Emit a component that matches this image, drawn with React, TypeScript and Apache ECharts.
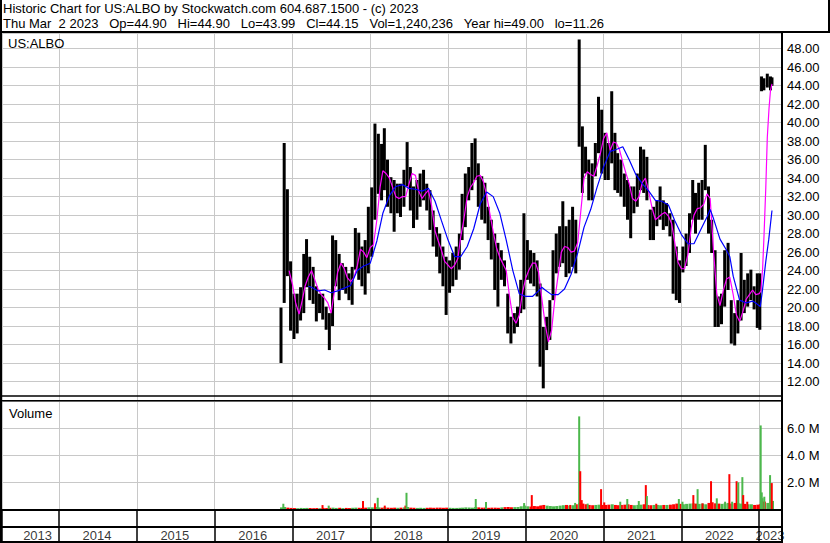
import React, { useEffect, useRef } from 'react';
import * as echarts from 'echarts';

// ---------- axis range ----------
const axisStart = '2013-04-08';
const axisEnd = '2023-04-18';
const yearLabels = ['2013', '2014', '2015', '2016', '2017', '2018', '2019', '2020', '2021', '2022', '2023'];
const yearLabelDates = ['2013-09-22', '2014-06-28', '2015-06-28', '2016-06-28', '2017-06-28', '2018-06-28', '2019-06-28', '2020-06-28', '2021-06-28', '2022-06-28', '2023-02-21'];

// ---------- half-monthly price ranges ----------
const priceDates = [
  '2016-11-08', '2016-11-23', '2016-12-08', '2016-12-23',
  '2017-01-08', '2017-01-23', '2017-02-08', '2017-02-23', '2017-03-08', '2017-03-23', '2017-04-08', '2017-04-23', '2017-05-08', '2017-05-23', '2017-06-08', '2017-06-23',
  '2017-07-08', '2017-07-23', '2017-08-08', '2017-08-23', '2017-09-08', '2017-09-23', '2017-10-08', '2017-10-23', '2017-11-08', '2017-11-23', '2017-12-08', '2017-12-23',
  '2018-01-08', '2018-01-23', '2018-02-08', '2018-02-23', '2018-03-08', '2018-03-23', '2018-04-08', '2018-04-23', '2018-05-08', '2018-05-23', '2018-06-08', '2018-06-23',
  '2018-07-08', '2018-07-23', '2018-08-08', '2018-08-23', '2018-09-08', '2018-09-23', '2018-10-08', '2018-10-23', '2018-11-08', '2018-11-23', '2018-12-08', '2018-12-23',
  '2019-01-08', '2019-01-23', '2019-02-08', '2019-02-23', '2019-03-08', '2019-03-23', '2019-04-08', '2019-04-23', '2019-05-08', '2019-05-23', '2019-06-08', '2019-06-23',
  '2019-07-08', '2019-07-23', '2019-08-08', '2019-08-23', '2019-09-08', '2019-09-23', '2019-10-08', '2019-10-23', '2019-11-08', '2019-11-23', '2019-12-08', '2019-12-23',
  '2020-01-08', '2020-01-23', '2020-02-08', '2020-02-23', '2020-03-08', '2020-03-23', '2020-04-08', '2020-04-23', '2020-05-08', '2020-05-23', '2020-06-08', '2020-06-23',
  '2020-07-08', '2020-07-23', '2020-08-08', '2020-08-23', '2020-09-08', '2020-09-23', '2020-10-08', '2020-10-23', '2020-11-08', '2020-11-23', '2020-12-08', '2020-12-23',
  '2021-01-08', '2021-01-23', '2021-02-08', '2021-02-23', '2021-03-08', '2021-03-23', '2021-04-08', '2021-04-23', '2021-05-08', '2021-05-23', '2021-06-08', '2021-06-23',
  '2021-07-08', '2021-07-23', '2021-08-08', '2021-08-23', '2021-09-08', '2021-09-23', '2021-10-08', '2021-10-23', '2021-11-08', '2021-11-23', '2021-12-08', '2021-12-23',
  '2022-01-08', '2022-01-23', '2022-02-08', '2022-02-23', '2022-03-08', '2022-03-23', '2022-04-08', '2022-04-23', '2022-05-08', '2022-05-23', '2022-06-08', '2022-06-23',
  '2022-07-08', '2022-07-23', '2022-08-08', '2022-08-23', '2022-09-08', '2022-09-23', '2022-10-08', '2022-10-23', '2022-11-08', '2022-11-23', '2022-12-08', '2022-12-23',
  '2023-01-04', '2023-01-12', '2023-01-23', '2023-02-08', '2023-02-23', '2023-03-02',
];
const priceHigh = [
  20.0, 37.8, 32.8, 25.0,
  21.5, 21.5, 22.2, 25.8, 27.4, 25.5, 24.4, 22.3, 21.5, 21.5, 20.1, 19.4,
  27.8, 27.3, 25.8, 24.8, 24.4, 23.7, 24.4, 28.6, 28.1, 26.6, 27.3, 30.9,
  33.0, 39.9, 38.8, 37.7, 39.4, 36.0, 34.1, 33.8, 33.4, 33.4, 34.9, 37.9,
  35.2, 33.1, 33.8, 34.5, 34.9, 33.4, 32.7, 30.5, 28.7, 28.0, 26.6, 25.5,
  25.1, 25.9, 26.6, 28.0, 32.3, 34.5, 35.2, 37.8, 38.3, 35.6, 34.2, 33.5,
  30.9, 29.5, 28.0, 27.0, 26.2, 25.1, 21.5, 19.0, 19.4, 20.1, 23.0, 30.2,
  27.3, 26.2, 25.9, 25.1, 22.6, 17.9, 19.0, 20.8, 26.2, 28.0, 28.8, 31.5,
  28.8, 29.5, 30.9, 29.5, 49.0, 39.6, 37.4, 36.0, 35.6, 37.8, 42.8, 41.4,
  38.9, 37.8, 43.4, 38.9, 36.7, 36.0, 34.5, 33.8, 33.1, 33.1, 34.5, 37.4,
  37.1, 36.3, 30.6, 30.9, 31.6, 33.1, 31.6, 31.3, 30.2, 29.5, 26.6, 25.1,
  26.6, 28.0, 30.2, 33.8, 32.4, 33.5, 33.8, 37.6, 33.1, 29.5, 26.2, 21.2,
  21.5, 26.2, 27.0, 20.8, 19.4, 20.8, 25.9, 23.0, 23.7, 24.1, 22.3, 23.7,
  23.7, 45.0, 44.8, 45.3, 45.0, 44.9,
];
const priceLow = [
  14.0, 20.5, 23.4, 17.5,
  16.6, 17.2, 18.6, 19.4, 22.2, 20.8, 20.4, 18.5, 19.4, 18.7, 17.6, 15.4,
  18.0, 22.3, 20.8, 21.9, 21.5, 20.8, 20.3, 24.1, 23.0, 22.3, 21.4, 23.7,
  25.5, 29.5, 32.3, 31.6, 32.7, 30.9, 30.2, 28.2, 30.2, 29.8, 30.9, 33.1,
  30.5, 28.6, 29.5, 30.9, 31.6, 30.5, 28.4, 26.6, 25.5, 23.7, 22.3, 19.2,
  21.6, 22.3, 23.0, 24.1, 27.3, 28.7, 31.6, 32.7, 33.8, 30.9, 29.5, 29.1,
  27.3, 25.2, 21.9, 20.1, 23.0, 22.3, 17.2, 16.1, 17.2, 17.9, 19.4, 19.8,
  23.0, 22.6, 22.3, 21.2, 13.6, 11.26, 15.4, 16.5, 20.8, 23.7, 24.4, 24.8,
  23.3, 23.7, 24.4, 23.7, 37.4, 32.4, 34.5, 31.6, 31.6, 34.2, 36.7, 34.5,
  33.8, 33.8, 35.6, 32.7, 32.4, 32.0, 30.9, 29.5, 27.5, 30.2, 30.9, 32.7,
  32.4, 31.6, 27.3, 27.3, 28.8, 29.5, 28.4, 28.8, 27.7, 21.5, 20.8, 20.5,
  23.8, 24.5, 25.9, 29.5, 28.0, 29.5, 29.5, 32.7, 28.0, 25.9, 17.9, 17.9,
  18.2, 20.1, 21.9, 16.1, 15.9, 17.2, 18.6, 19.4, 20.1, 20.8, 19.8, 17.8,
  17.6, 43.4, 43.5, 43.8, 43.5, 43.99,
];

// ---------- moving averages ----------
const maFastDates = [
  '2016-12-16',
  '2017-01-01', '2017-01-16', '2017-02-01', '2017-02-16', '2017-03-01', '2017-03-16', '2017-04-01', '2017-04-16', '2017-05-01', '2017-05-16', '2017-06-01', '2017-06-16',
  '2017-07-01', '2017-07-16', '2017-08-01', '2017-08-16', '2017-09-01', '2017-09-16', '2017-10-01', '2017-10-16', '2017-11-01', '2017-11-16', '2017-12-01', '2017-12-16',
  '2018-01-01', '2018-01-16', '2018-02-01', '2018-02-16', '2018-03-01', '2018-03-16', '2018-04-01', '2018-04-16', '2018-05-01', '2018-05-16', '2018-06-01', '2018-06-16',
  '2018-07-01', '2018-07-16', '2018-08-01', '2018-08-16', '2018-09-01', '2018-09-16', '2018-10-01', '2018-10-16', '2018-11-01', '2018-11-16', '2018-12-01', '2018-12-16',
  '2019-01-01', '2019-01-16', '2019-02-01', '2019-02-16', '2019-03-01', '2019-03-16', '2019-04-01', '2019-04-16', '2019-05-01', '2019-05-16', '2019-06-01', '2019-06-16',
  '2019-07-01', '2019-07-16', '2019-08-01', '2019-08-16', '2019-09-01', '2019-09-16', '2019-10-01', '2019-10-16', '2019-11-01', '2019-11-16', '2019-12-01', '2019-12-16',
  '2020-01-01', '2020-01-16', '2020-02-01', '2020-02-16', '2020-03-01', '2020-03-16', '2020-04-01', '2020-04-16', '2020-05-01', '2020-05-16', '2020-06-01', '2020-06-16',
  '2020-07-01', '2020-07-16', '2020-08-01', '2020-08-16', '2020-09-01', '2020-09-16', '2020-10-01', '2020-10-16', '2020-11-01', '2020-11-16', '2020-12-01', '2020-12-16',
  '2021-01-01', '2021-01-16', '2021-02-01', '2021-02-16', '2021-03-01', '2021-03-16', '2021-04-01', '2021-04-16', '2021-05-01', '2021-05-16', '2021-06-01', '2021-06-16',
  '2021-07-01', '2021-07-16', '2021-08-01', '2021-08-16', '2021-09-01', '2021-09-16', '2021-10-01', '2021-10-16', '2021-11-01', '2021-11-16', '2021-12-01', '2021-12-16',
  '2022-01-01', '2022-01-16', '2022-02-01', '2022-02-16', '2022-03-01', '2022-03-16', '2022-04-01', '2022-04-16', '2022-05-01', '2022-05-16', '2022-06-01', '2022-06-16',
  '2022-07-01', '2022-07-16', '2022-08-01', '2022-08-16', '2022-09-01', '2022-09-16', '2022-10-01', '2022-10-16', '2022-11-01', '2022-11-16', '2022-12-01', '2022-12-16',
  '2023-01-01', '2023-01-09', '2023-01-17', '2023-01-24', '2023-02-01', '2023-02-08', '2023-02-16', '2023-02-23', '2023-03-02',
];
const maFastValues = [
  24.0,
  22.5, 20.5, 19.3, 20.8, 22.3, 23.3, 24.0, 23.0, 22.0, 21.4, 21.0, 20.5,
  19.4, 21.6, 23.8, 24.8, 24.2, 23.2, 22.8, 23.2, 24.5, 26.3, 26.0, 25.4,
  26.5, 26.8, 29.5, 33.0, 34.8, 34.5, 34.0, 33.0, 32.0, 31.8, 32.0, 32.0,
  33.3, 34.5, 34.3, 32.6, 31.8, 32.3, 32.7, 31.0, 28.3, 27.2, 26.2, 25.0,
  24.6, 24.2, 24.6, 25.3, 27.6, 29.5, 32.0, 33.0, 33.5, 34.2, 34.3, 33.6,
  32.2, 30.2, 28.2, 26.5, 25.4, 24.7, 24.0, 21.3, 18.9, 18.3, 19.2, 21.6,
  23.2, 24.1, 24.8, 24.8, 23.8, 21.0, 18.2, 16.3, 17.5, 20.8, 23.5, 26.0,
  26.6, 26.5, 26.0, 26.1, 27.0, 30.5, 34.0, 34.7, 34.4, 34.2, 35.3, 36.6,
  38.3, 38.9, 37.0, 37.9, 37.8, 37.1, 35.7, 34.5, 33.4, 31.8, 31.5, 32.0,
  33.5, 34.0, 32.5, 30.8, 29.5, 29.8, 30.1, 30.3, 29.9, 29.1, 27.0, 24.9,
  24.2, 24.2, 25.8, 28.6, 30.0, 30.7, 30.8, 31.2, 32.3, 31.8, 26.0, 21.5,
  20.2, 21.8, 23.1, 23.3, 21.4, 19.2, 18.5, 19.5, 20.9, 21.4, 21.9, 21.4,
  21.5, 21.8, 24.2, 28.0, 33.0, 38.4, 41.5, 43.5, 44.2,
];

const maSlowDates = [
  '2017-03-16', '2017-04-01', '2017-05-01', '2017-06-01', '2017-07-01', '2017-08-01', '2017-09-01', '2017-10-01', '2017-11-01', '2017-12-01',
  '2018-01-01', '2018-02-01', '2018-03-01', '2018-04-01', '2018-05-01', '2018-06-01', '2018-07-01', '2018-08-01', '2018-09-01', '2018-10-01', '2018-11-01', '2018-12-01',
  '2019-01-01', '2019-02-01', '2019-03-01', '2019-04-01', '2019-05-01', '2019-06-01', '2019-07-01', '2019-08-01', '2019-09-01', '2019-10-01', '2019-11-01', '2019-12-01',
  '2020-01-01', '2020-02-01', '2020-03-01', '2020-03-16', '2020-04-01', '2020-05-01', '2020-06-01', '2020-07-01', '2020-08-01', '2020-09-01', '2020-10-01', '2020-11-01', '2020-12-01',
  '2021-01-01', '2021-02-01', '2021-03-01', '2021-04-01', '2021-05-01', '2021-06-01', '2021-07-01', '2021-08-01', '2021-09-01', '2021-10-01', '2021-11-01', '2021-12-01',
  '2022-01-01', '2022-02-01', '2022-03-01', '2022-04-01', '2022-05-01', '2022-05-16', '2022-06-01', '2022-07-01', '2022-08-01', '2022-08-16', '2022-09-01', '2022-10-01', '2022-11-01', '2022-12-01', '2022-12-16',
  '2023-01-06', '2023-01-16', '2023-02-01', '2023-02-15', '2023-03-02',
];
const maSlowValues = [
  22.3, 22.2, 21.8, 21.9, 21.6, 21.8, 22.1, 22.4, 24.0, 24.5,
  24.8, 27.2, 30.2, 32.1, 33.1, 33.3, 32.9, 32.8, 32.6, 32.9, 31.5, 29.4,
  27.3, 25.5, 25.5, 26.6, 28.5, 31.2, 32.5, 32.0, 30.2, 27.3, 24.0, 21.5,
  21.2, 21.2, 21.8, 22.2, 21.9, 21.4, 21.4, 22.0, 23.6, 25.9, 28.7, 30.6, 33.0,
  35.2, 36.9, 37.1, 37.4, 36.0, 34.4, 33.4, 32.6, 31.6, 31.5, 31.1, 29.4,
  27.9, 26.9, 26.9, 28.4, 29.8, 30.6, 29.6, 27.4, 26.2, 25.5, 23.4, 20.8, 20.5, 20.7, 20.5,
  20.1, 21.8, 25.0, 27.4, 30.5,
];

// ---------- volume (millions) ----------
const volumeBase = [
  0.12, 0.15, 0.10, 0.08,
  0.07, 0.06, 0.08, 0.07, 0.08, 0.07, 0.06, 0.07, 0.06, 0.08, 0.07, 0.09, 0.10, 0.08, 0.09, 0.07, 0.08, 0.07, 0.09, 0.10, 0.09, 0.08, 0.10, 0.12,
  0.12, 0.15, 0.12, 0.10, 0.12, 0.10, 0.09, 0.10, 0.09, 0.10, 0.12, 0.15, 0.10, 0.09, 0.08, 0.09, 0.08, 0.09, 0.10, 0.09, 0.10, 0.10, 0.09, 0.10,
  0.09, 0.08, 0.08, 0.09, 0.10, 0.12, 0.11, 0.10, 0.15, 0.12, 0.10, 0.11, 0.09, 0.10, 0.10, 0.09, 0.12, 0.14, 0.15, 0.13, 0.14, 0.15, 0.20, 0.25,
  0.20, 0.18, 0.22, 0.20, 0.25, 0.30, 0.25, 0.22, 0.20, 0.22, 0.25, 0.28, 0.30, 0.26, 0.28, 0.35, 0.45, 0.40, 0.35, 0.30, 0.28, 0.30, 0.32, 0.30,
  0.30, 0.32, 0.35, 0.30, 0.28, 0.30, 0.32, 0.35, 0.30, 0.28, 0.30, 0.32, 0.35, 0.30, 0.28, 0.30, 0.30, 0.28, 0.30, 0.30, 0.32, 0.35, 0.40, 0.38,
  0.35, 0.38, 0.40, 0.42, 0.40, 0.38, 0.40, 0.35, 0.45, 0.50, 0.42, 0.40, 0.38, 0.42, 0.45, 0.40, 0.45, 0.42, 0.40, 0.38, 0.35, 0.35, 0.30, 0.32,
  0.35, 0.80, 0.55, 0.45, 0.50, 0.60,
];
const volSpikeDates = [
  '2016-11-19', '2017-05-22', '2017-06-20', '2017-11-28', '2018-01-23', '2018-02-05', '2018-03-10', '2018-06-15', '2018-06-20',
  '2019-05-11', '2019-06-28', '2019-12-24', '2020-01-29', '2020-03-14', '2020-07-28', '2020-08-20', '2020-09-08', '2020-09-13', '2020-09-20',
  '2020-10-18', '2020-12-20', '2021-01-04', '2021-03-20', '2021-04-22', '2021-06-15', '2021-07-18', '2021-07-23', '2021-09-05', '2021-12-20',
  '2022-01-06', '2022-02-26', '2022-03-18', '2022-04-10', '2022-05-20', '2022-06-16', '2022-07-25', '2022-08-14', '2022-08-27', '2022-09-17',
  '2022-09-25', '2022-10-14', '2022-10-18', '2022-11-06', '2023-01-08', '2023-01-13', '2023-01-25', '2023-02-21', '2023-03-01',
];
const volSpikeValues = [
  0.39, 0.29, 0.25, 0.59, 0.42, 0.83, 0.25, 0.25, 1.2,
  0.74, 0.52, 0.44, 1.03, 0.25, 0.30, 0.45, 6.86, 2.80, 0.66,
  0.40, 1.47, 0.49, 0.54, 0.74, 0.59, 1.77, 0.96, 0.39, 0.74,
  0.54, 1.03, 1.47, 0.42, 2.06, 0.79, 0.54, 2.58, 0.54, 2.06,
  1.97, 2.36, 1.03, 0.54, 6.19, 1.23, 0.91, 2.51, 1.92,
];
const volSpikeUp = [
  1, 0, 1, 0, 0, 1, 0, 0, 1,
  1, 1, 1, 0, 0, 0, 1, 1, 0, 0,
  1, 0, 0, 1, 1, 1, 0, 1, 0, 1,
  1, 0, 1, 0, 0, 1, 1, 0, 1, 0,
  1, 1, 0, 0, 1, 1, 1, 1, 0,
];

const FONT = '"Liberation Sans", Arial, Helvetica, sans-serif';
const GRID_COLOR = '#c8c8c8';
const UP = '#4cb84c';
const DOWN = '#ff0000';

function toYear(s: string): number {
  const [y, m, d] = s.split('-').map(Number);
  const start = Date.UTC(y, 0, 1);
  const end = Date.UTC(y + 1, 0, 1);
  return y + (Date.UTC(y, m - 1, d) - start) / (end - start);
}

const header1 = 'Historic Chart for US:ALBO by Stockwatch.com 604.687.1500 - (c) 2023';
const header2Parts = ['Thu Mar\u00A0\u00A02 2023', 'Op=44.90', 'Hi=44.90', 'Lo=43.99', 'Cl=44.15', 'Vol=1,240,236', 'Year hi=49.00', 'lo=11.26'];

export default function App() {
  const ref = useRef<HTMLDivElement>(null);

  useEffect(() => {
    const chart = echarts.init(ref.current!, null, { renderer: 'svg' });
    const xMin = toYear(axisStart);
    const xMax = toYear(axisEnd);

    const bars = priceDates.map((d, i) => [toYear(d), priceLow[i], priceHigh[i]]);
    const fast = maFastDates.map((d, i) => [toYear(d), maFastValues[i]]);
    const slow = maSlowDates.map((d, i) => [toYear(d), maSlowValues[i]]);
    const base = priceDates.map((d, i) => {
      const mid = (priceHigh[i] + priceLow[i]) / 2;
      const prev = i > 0 ? (priceHigh[i - 1] + priceLow[i - 1]) / 2 : mid;
      return { value: [toYear(d), volumeBase[i]], itemStyle: { color: mid >= prev ? UP : DOWN } };
    });
    const spikes = volSpikeDates.map((d, i) => ({
      value: [toYear(d), volSpikeValues[i]],
      itemStyle: { color: volSpikeUp[i] ? UP : DOWN },
    }));
    const years = yearLabels.map((y, i) => ({ name: y, value: [toYear(yearLabelDates[i]), 0.2] }));

    // header line 2: spread the pieces between x=3 and x=604 with equal gaps
    const cv = document.createElement('canvas').getContext('2d')!;
    cv.font = `13px ${FONT}`;
    const widths = header2Parts.map((t) => cv.measureText(t).width);
    const totalW = widths.reduce((a, b) => a + b, 0);
    const gap = (601 - totalW) / (header2Parts.length - 1);
    const header2X: number[] = [];
    let cx = 3;
    widths.forEach((w) => { header2X.push(cx); cx += w + gap; });

    const xCommon = {
      type: 'value',
      min: xMin,
      max: xMax,
      splitNumber: 10,
      minInterval: 1,
      maxInterval: 1,
      axisLine: { show: false },
      axisTick: { show: false },
      axisLabel: { show: false },
    };

    const blackLine = (x1: number, y1: number, x2: number, y2: number, w = 2) => ({
      type: 'line',
      z: 100,
      silent: true,
      shape: { x1, y1, x2, y2 },
      style: { stroke: '#000', lineWidth: w },
    });
    const label = (x: number, y: number, text: string) => ({
      type: 'text',
      z: 100,
      silent: true,
      x,
      y,
      style: { text, fill: '#000', font: `13px ${FONT}`, verticalAlign: 'middle' },
    });

    const option: any = {
      animation: false,
      backgroundColor: '#fff',
      textStyle: { fontFamily: FONT },
      grid: [
        { left: 2, right: 48, top: 33, height: 367 },
        { left: 2, right: 48, top: 401, height: 108 },
        { left: 2, right: 48, top: 509, height: 33 },
      ],
      xAxis: [
        { ...xCommon, gridIndex: 0, splitLine: { lineStyle: { color: GRID_COLOR, width: 1 } } },
        { ...xCommon, gridIndex: 1, splitLine: { lineStyle: { color: GRID_COLOR, width: 1 } } },
        { ...xCommon, gridIndex: 2, splitLine: { lineStyle: { color: '#000', width: 1.5 } } },
      ],
      yAxis: [
        {
          type: 'value', gridIndex: 0, position: 'right', min: 10, max: 49.7, interval: 2,
          axisLine: { show: false }, axisTick: { show: false },
          axisLabel: {
            color: '#000', fontSize: 13, fontFamily: FONT, margin: 5,
            formatter: (v: number) => (v >= 12 && v <= 48 ? v.toFixed(2) : ''),
          },
          splitLine: { lineStyle: { color: GRID_COLOR, width: 1 } },
        },
        {
          type: 'value', gridIndex: 1, position: 'right', min: 0, max: 8, interval: 2,
          axisLine: { show: false }, axisTick: { show: false },
          axisLabel: {
            color: '#000', fontSize: 13, fontFamily: FONT, margin: 5,
            formatter: (v: number) => (v > 0 && v < 8 ? v.toFixed(1) + ' M' : ''),
          },
          splitLine: { lineStyle: { color: GRID_COLOR, width: 1 } },
        },
        { type: 'value', gridIndex: 2, min: 0, max: 1, show: false },
      ],
      series: [
        {
          type: 'custom',
          name: 'Price',
          xAxisIndex: 0,
          yAxisIndex: 0,
          clip: true,
          encode: { x: 0, y: [1, 2] },
          data: bars,
          renderItem: (_p: any, api: any) => {
            const x = api.value(0);
            const top = api.coord([x, api.value(2)]);
            const bot = api.coord([x, api.value(1)]);
            return {
              type: 'rect',
              shape: { x: top[0] - 1.5, y: top[1], width: 3.0, height: bot[1] - top[1] },
              style: { fill: '#000' },
            };
          },
          z: 2,
        },
        {
          type: 'line', name: 'MA fast', xAxisIndex: 0, yAxisIndex: 0, data: fast,
          showSymbol: false, symbol: 'none', lineStyle: { color: '#ff00ff', width: 1.2 }, z: 3,
        },
        {
          type: 'line', name: 'MA slow', xAxisIndex: 0, yAxisIndex: 0, data: slow,
          showSymbol: false, symbol: 'none', lineStyle: { color: '#0000ff', width: 1.2 }, z: 4,
        },
        {
          type: 'bar', name: 'Volume', xAxisIndex: 1, yAxisIndex: 1, data: base,
          barWidth: 3, barGap: '-100%', z: 2,
        },
        {
          type: 'bar', name: 'Volume spikes', xAxisIndex: 1, yAxisIndex: 1, data: spikes,
          barWidth: 2, barGap: '-100%', z: 3,
        },
        {
          type: 'scatter', name: 'Years', xAxisIndex: 2, yAxisIndex: 2, data: years,
          symbolSize: 1, itemStyle: { color: 'rgba(0,0,0,0)' },
          label: { show: true, position: 'inside', formatter: '{b}', color: '#000', fontSize: 13, fontFamily: FONT },
          z: 5,
        },
      ],
      graphic: [
        label(3, 8.8, header1),
        ...header2Parts.map((t, i) => label(header2X[i], 23.8, t)),
        label(8, 43, 'US:ALBO'),
        label(9, 413.5, 'Volume'),
        blackLine(1, 0, 1, 543),
        blackLine(829, 0, 829, 32),
        blackLine(0, 32, 830, 32),
        blackLine(782, 32, 782, 543),
        blackLine(0, 396, 782, 396, 1.5),
        blackLine(0, 400.75, 782, 400.75, 1.5),
        blackLine(0, 510, 782, 510),
        blackLine(0, 527, 782, 527),
        blackLine(0, 542, 782, 542),
      ],
    };

    chart.setOption(option);
    return () => chart.dispose();
  }, []);

  return (
    <div
      ref={ref}
      style={{ position: 'fixed', left: 0, top: 0, width: 830, height: 543, background: '#fff' }}
    />
  );
}
